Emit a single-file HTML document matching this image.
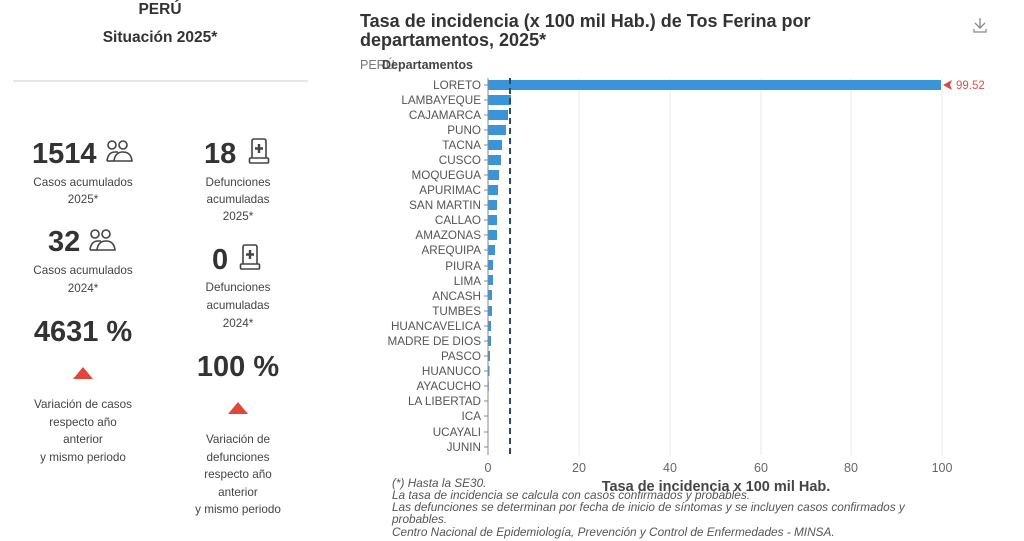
<!DOCTYPE html>
<html><head><meta charset="utf-8"><style>
html,body{margin:0;padding:0;background:#fff;}
svg{display:block;font-family:"Liberation Sans",sans-serif;}
</style></head><body>
<svg width="1024" height="541" viewBox="0 0 1024 541" xmlns="http://www.w3.org/2000/svg">
<defs>
<g id="ppl" fill="none" stroke="#444" stroke-width="1.6">
<circle cx="6" cy="5" r="4"/><circle cx="17" cy="5" r="4"/>
<path d="M1 21 Q2 12 9 12 L12 12"/><path d="M8 21 Q9 12 17 12 Q25 12 26 21 Z"/><path d="M1 21 L8 21"/>
</g>
<g id="grave" fill="none" stroke="#444" stroke-width="1.6">
<path d="M3 20 L3 3 Q3 1 5 1 L15 1 Q17 1 17 3 L17 20"/><rect x="0.5" y="20" width="19" height="5" rx="1"/>
<path d="M10 6 L10 15 M6 10.5 L14 10.5" stroke-width="2.4"/>
</g>
</defs>
<g fill="#333" text-anchor="middle">
<text x="160" y="14" font-size="15.5" font-weight="bold">PERÚ</text>
<text x="160" y="42" font-size="15.5" font-weight="bold">Situación 2025*</text>
</g>
<line x1="13" y1="81" x2="308" y2="81" stroke="#ccc" stroke-width="1"/>
<g fill="#333" font-weight="bold" font-size="29">
<text x="32" y="163">1514</text>
<text x="48" y="251">32</text>
<text x="204" y="163">18</text>
<text x="212" y="269">0</text>
<text x="83" y="341" text-anchor="middle">4631 %</text>
<text x="238" y="376" text-anchor="middle">100 %</text>
</g>
<use href="#ppl" x="106" y="140"/>
<use href="#ppl" x="89" y="229"/>
<use href="#grave" x="249" y="138"/>
<use href="#grave" x="240" y="244"/>
<polygon points="73,379 93,379 83,367" fill="#e0463a"/>
<polygon points="228,414 248,414 238,402" fill="#e0463a"/>
<g fill="#444" font-size="11.7" text-anchor="middle">
<text x="83" y="186">Casos acumulados</text><text x="83" y="203">2025*</text>
<text x="83" y="274">Casos acumulados</text><text x="83" y="292">2024*</text>
<text x="83" y="408">Variación de casos</text><text x="83" y="426">respecto año</text><text x="83" y="443">anterior</text><text x="83" y="461">y mismo periodo</text>
<text x="238" y="186">Defunciones</text><text x="238" y="203">acumuladas</text><text x="238" y="220">2025*</text>
<text x="238" y="291">Defunciones</text><text x="238" y="309">acumuladas</text><text x="238" y="327">2024*</text>
<text x="238" y="443">Variación de</text><text x="238" y="461">defunciones</text><text x="238" y="478">respecto año</text><text x="238" y="496">anterior</text><text x="238" y="513">y mismo periodo</text>
</g>
<g fill="#333" font-size="18" font-weight="bold">
<text x="360" y="27">Tasa de incidencia (x 100 mil Hab.) de Tos Ferina por</text>
<text x="360" y="46">departamentos, 2025*</text>
</g>
<g fill="none" stroke="#888" stroke-width="1.3"><path d="M980 18 L980 28 M975 23 L980 28 L985 23 M974 29 L974 32 L986 32 L986 29"/></g>
<text x="360" y="69" font-size="12.5" fill="#777">PERÚ</text>
<text x="382" y="69" font-size="12.5" font-weight="bold" fill="#444">Departamentos</text>
<g stroke="#e8e8e8" stroke-width="1">
<line x1="579" y1="78" x2="579" y2="455"/><line x1="670" y1="78" x2="670" y2="455"/><line x1="761" y1="78" x2="761" y2="455"/><line x1="851" y1="78" x2="851" y2="455"/><line x1="942" y1="78" x2="942" y2="455"/>
</g>
<g fill="#3a94d8">
<rect x="488" y="80" width="453" height="10"/>
<rect x="488" y="95" width="23" height="10"/>
<rect x="488" y="110" width="20" height="10"/>
<rect x="488" y="125" width="18" height="10"/>
<rect x="488" y="140" width="14" height="10"/>
<rect x="488" y="155" width="13" height="10"/>
<rect x="488" y="170" width="11" height="10"/>
<rect x="488" y="185" width="10" height="10"/>
<rect x="488" y="200" width="9" height="10"/>
<rect x="488" y="215" width="9" height="10"/>
<rect x="488" y="230" width="9" height="10"/>
<rect x="488" y="245" width="7" height="10"/>
<rect x="488" y="260" width="5" height="10"/>
<rect x="488" y="275" width="5" height="10"/>
<rect x="488" y="290" width="4" height="10"/>
<rect x="488" y="306" width="4" height="10"/>
<rect x="488" y="321" width="3" height="10"/>
<rect x="488" y="336" width="3" height="10"/>
<rect x="488" y="351" width="2" height="10"/>
<rect x="488" y="366" width="1.5" height="10"/>
<rect x="488" y="381" width="0.8" height="10"/>
</g>
<line x1="488" y1="78" x2="488" y2="455" stroke="#888" stroke-width="1"/>
<line x1="510" y1="78" x2="510" y2="455" stroke="#2b4a6b" stroke-width="2" stroke-dasharray="6,4"/>
<polygon points="943,85 952,80 950,85 952,90" fill="#e0463a"/>
<text x="956" y="89" font-size="11.5" fill="#d9534f">99.52</text>
<g font-size="11.7" fill="#555" text-anchor="end">
<text x="481" y="89">LORETO</text><text x="481" y="104">LAMBAYEQUE</text><text x="481" y="119">CAJAMARCA</text><text x="481" y="134">PUNO</text><text x="481" y="149">TACNA</text><text x="481" y="164">CUSCO</text><text x="481" y="179">MOQUEGUA</text><text x="481" y="194">APURIMAC</text><text x="481" y="209">SAN MARTIN</text><text x="481" y="224">CALLAO</text><text x="481" y="239">AMAZONAS</text><text x="481" y="254">AREQUIPA</text><text x="481" y="270">PIURA</text><text x="481" y="285">LIMA</text><text x="481" y="300">ANCASH</text><text x="481" y="315">TUMBES</text><text x="481" y="330">HUANCAVELICA</text><text x="481" y="345">MADRE DE DIOS</text><text x="481" y="360">PASCO</text><text x="481" y="375">HUANUCO</text><text x="481" y="390">AYACUCHO</text><text x="481" y="405">LA LIBERTAD</text><text x="481" y="420">ICA</text><text x="481" y="436">UCAYALI</text><text x="481" y="451">JUNIN</text>
</g>
<g stroke="#888" stroke-width="1">
<path d="M484 85h4M484 100h4M484 115h4M484 130h4M484 145h4M484 160h4M484 175h4M484 190h4M484 205h4M484 220h4M484 235h4M484 250h4M484 266h4M484 281h4M484 296h4M484 311h4M484 326h4M484 341h4M484 356h4M484 371h4M484 386h4M484 401h4M484 416h4M484 432h4M484 447h4"/>
</g>
<g font-size="12.5" fill="#666" text-anchor="middle">
<text x="488" y="472">0</text><text x="579" y="472">20</text><text x="670" y="472">40</text><text x="761" y="472">60</text><text x="851" y="472">80</text><text x="942" y="472">100</text>
</g>
<text x="716" y="491" font-size="14.5" font-weight="bold" fill="#444" text-anchor="middle">Tasa de incidencia x 100 mil Hab.</text>
<g font-size="11.8" font-style="italic" fill="#555">
<text x="392" y="487">(*) Hasta la SE30.</text>
<text x="392" y="499">La tasa de incidencia se calcula con casos confirmados y probables.</text>
<text x="392" y="511">Las defunciones se determinan por fecha de inicio de síntomas y se incluyen casos confirmados y</text>
<text x="392" y="523">probables.</text>
<text x="392" y="536">Centro Nacional de Epidemiología, Prevención y Control de Enfermedades - MINSA.</text>
</g>
</svg>
</body></html>
